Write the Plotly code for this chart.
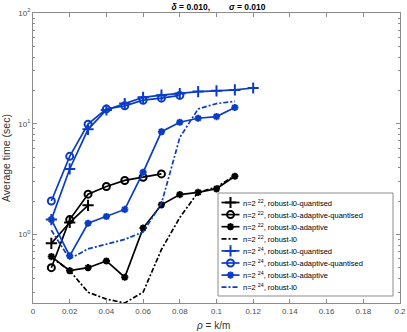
import plotly.graph_objects as go

# rho = k/m
rho = [0.01, 0.02, 0.03, 0.04, 0.05, 0.06, 0.07, 0.08, 0.09, 0.10, 0.11, 0.12]

# n = 2^22
t22_quant = [0.83, 1.28, 1.83]
t22_adq = [0.50, 1.36, 2.31, 2.71, 3.07, 3.28, 3.52]
t22_adapt = [0.63, 0.47, 0.50, 0.575, 0.41, 1.14, 1.85, 2.29, 2.40, 2.58, 3.35]
t22_l0 = [0.62, 0.47, 0.30, 0.26, 0.24, 0.30, 0.73, 1.42, 2.40, 2.67, 3.40]

# n = 2^24
t24_quant = [1.36, 3.9, 8.9, 13.3, 15.2, 17.3, 18.1, 18.7, 19.5, 19.8, 20.2, 21.0]
t24_adq = [2.0, 5.07, 9.9, 13.6, 14.5, 16.3, 17.0, 18.0]
t24_adapt = [1.36, 0.64, 1.26, 1.45, 1.68, 3.64, 8.47, 10.3, 11.2, 11.6, 14.0]
t24_l0 = [1.09, 0.60, 0.74, 0.82, 0.90, 1.05, 1.9, 7.5, 13.6, 15.2, 15.9]

x_ticks = [0, 0.02, 0.04, 0.06, 0.08, 0.1, 0.12, 0.14, 0.16, 0.18, 0.2]
x_ticktext = ["0", "0.02", "0.04", "0.06", "0.08", "0.1", "0.12", "0.14", "0.16", "0.18", "0.2"]
y_ticks = [1, 10, 100]
y_ticktext = ["10<sup>0</sup>", "10<sup>1</sup>", "10<sup>2</sup>"]

BLACK = "#000000"
BLUE = "#0a3cc8"
DASH = "5px,2px,2px,2px"
FONT = "Liberation Sans, Arial"

series = [
    ("22", "robust-l0-quantised", t22_quant, BLACK, "cross-thin-open", "solid"),
    ("22", "robust-l0-adaptive-quantised", t22_adq, BLACK, "circle-open", "solid"),
    ("22", "robust-l0-adaptive", t22_adapt, BLACK, "asterisk-open", "solid"),
    ("22", "robust-l0", t22_l0, BLACK, None, DASH),
    ("24", "robust-l0-quantised", t24_quant, BLUE, "cross-thin-open", "solid"),
    ("24", "robust-l0-adaptive-quantised", t24_adq, BLUE, "circle-open", "solid"),
    ("24", "robust-l0-adaptive", t24_adapt, BLUE, "asterisk-open", "solid"),
    ("24", "robust-l0", t24_l0, BLUE, None, DASH),
]
msize = {"cross-thin-open": 8, "circle-open": 7, "asterisk-open": 6}


def marker_for(sym, col):
    if sym is None:
        return dict()
    return dict(symbol=sym, size=msize[sym], color=col, line=dict(color=col, width=2))


fig = go.Figure()
for p, name, vals, col, sym, dash in series:
    fig.add_trace(go.Scatter(
        x=rho[:len(vals)], y=vals, mode="lines" if sym is None else "lines+markers",
        line=dict(color=col, width=1.7, dash=dash), marker=marker_for(sym, col),
        showlegend=False))

# hand-made legend (plotly's own legend rows are too tall for this size)
# overlay axes measured in figure pixels
leg_x0, leg_x1, leg_y0, leg_y1 = 218, 393, 193, 296
row0, row_step = 202.5, 12.1
for i, (p, name, vals, col, sym, dash) in enumerate(series):
    ry = row0 + i * row_step
    fig.add_trace(go.Scatter(
        x=[221.5, 239.5], y=[ry, ry], mode="lines", xaxis="x2", yaxis="y2",
        line=dict(color=col, width=1.7, dash=dash), showlegend=False, hoverinfo="skip"))
    if sym is not None:
        fig.add_trace(go.Scatter(
            x=[230.5], y=[ry], mode="markers", xaxis="x2", yaxis="y2",
            marker=marker_for(sym, col), showlegend=False, hoverinfo="skip"))
    fig.add_annotation(x=241, y=ry, xref="x2", yref="y2", xanchor="left", yanchor="middle",
                       text=f"n=2 <sup>{p}</sup>, {name}", showarrow=False,
                       font=dict(family=FONT, size=7.5, color="black"))
fig.add_shape(type="rect", x0=leg_x0, x1=leg_x1, y0=leg_y0, y1=leg_y1, xref="x2", yref="y2",
              line=dict(color="#8c8c8c", width=1), fillcolor="white", layer="below")

axis_common = dict(
    showline=True, linecolor="#8c8c8c", linewidth=1, mirror="allticks", automargin=False,
    ticks="inside", ticklen=4, tickcolor="#8c8c8c", showgrid=False, zeroline=False,
    tickfont=dict(family=FONT, size=8, color="#4d4d4d"),
)

fig.update_layout(
    width=407, height=332,
    margin=dict(l=33, r=7, t=13, b=29),
    paper_bgcolor="white", plot_bgcolor="white",
    title=dict(text="<b><i>δ</i> = 0.010," + "&nbsp;" * 8 + "<i>σ</i> = 0.010</b>",
               x=0.537, xanchor="center", y=0.98, yanchor="middle",
               font=dict(family=FONT, size=8.5, color="black")),
    xaxis=dict(axis_common, range=[0, 0.2], tickvals=x_ticks, ticktext=x_ticktext),
    yaxis=dict(axis_common, type="log", range=[-0.62, 2], tickvals=y_ticks, ticktext=y_ticktext,
               minor=dict(ticks="inside", ticklen=2, tickcolor="#8c8c8c",
                          tickvals=[m * 10 ** e for e in (-1, 0, 1) for m in range(2, 10)])),
    xaxis2=dict(overlaying="x", range=[33, 400], visible=False, fixedrange=True, automargin=False),
    yaxis2=dict(overlaying="y", range=[303, 13], visible=False, fixedrange=True, automargin=False),
    showlegend=False,
)

# axis titles placed in paper coordinates (plot area spans x 33-400 px, y 13-303 px)
fig.add_annotation(x=(213 - 33) / 367, y=(303 - 325) / 290, xref="paper", yref="paper",
                   text="<i>ρ</i> = k/m", showarrow=False, xanchor="center", yanchor="middle",
                   font=dict(family=FONT, size=10, color="#333333"))
fig.add_annotation(x=(6 - 33) / 367, y=(303 - 158) / 290, xref="paper", yref="paper",
                   text="Average time (sec)", showarrow=False, textangle=-90,
                   xanchor="center", yanchor="middle",
                   font=dict(family=FONT, size=10.5, color="#333333"))

fig.write_html("out.html", config={"displayModeBar": False},
               post_script="document.body.style.margin='0';")
